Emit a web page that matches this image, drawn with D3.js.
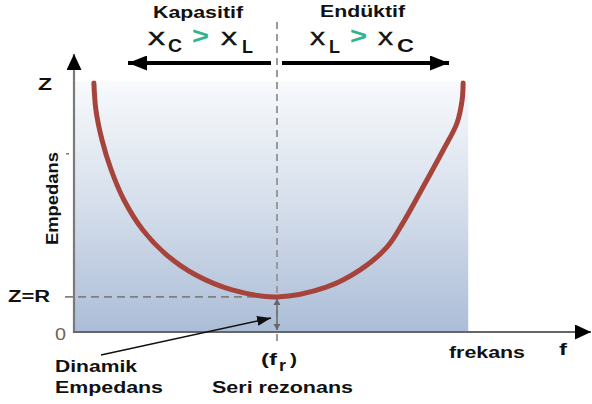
<!DOCTYPE html>
<html>
<head>
<meta charset="utf-8">
<script src="https://cdn.jsdelivr.net/npm/d3@7"></script>
<style>
  html, body { margin: 0; padding: 0; background: #fff; }
  svg { display: block; }
</style>
</head>
<body>
<div id="chart"></div>
<script>
// impedance curve (arbitrary units)
const freq      = [3.9, 4.3, 5.5, 7.3, 9.8, 13.5, 18.2, 23.9, 31.0, 39.8, 49.6, 56.1, 61.4, 64.5, 67.8, 72.4, 75.1, 76.1, 76.3];
const impedance = [92.2, 82.2, 71.1, 60.0, 48.9, 37.8, 28.5, 21.1, 15.6, 13.0, 16.7, 23.0, 31.5, 40.4, 51.5, 67.4, 77.4, 85.9, 92.2];
const resonance = 39.8;     // f_r
const zMin = 13.0;          // Z = R
const bandEnd = 77.3;       // right edge of shaded band
const bandTop = 93;
const yTickLabels = [{ v: 13.0, t: "Z=R" }, { v: 0, t: "0" }];
const yMinorTicks = [66];

const FONT = "'Liberation Sans', Arial, sans-serif";
const totalW = 592, totalH = 404;

const svg = d3.select("#chart").append("svg")
  .attr("width", totalW).attr("height", totalH);

const x = d3.scaleLinear().domain([0, 100]).range([74, 584]);
const y = d3.scaleLinear().domain([0, 100]).range([332, 62]);

const defs = svg.append("defs");
const grad = defs.append("linearGradient").attr("id", "band-grad")
  .attr("x1", 0).attr("x2", 0).attr("y1", 0).attr("y2", 1);
grad.append("stop").attr("offset", "0%").attr("stop-color", "#f8fafc");
grad.append("stop").attr("offset", "50%").attr("stop-color", "#d5deeb");
grad.append("stop").attr("offset", "100%").attr("stop-color", "#abbdd7");

function arrowMarker(id, color, w, h) {
  defs.append("marker").attr("id", id)
    .attr("viewBox", `0 0 ${w} ${h}`).attr("refX", w).attr("refY", h / 2)
    .attr("markerWidth", w).attr("markerHeight", h)
    .attr("markerUnits", "userSpaceOnUse").attr("orient", "auto")
    .append("path").attr("d", `M0,0L${w},${h / 2}L0,${h}Z`).attr("fill", color);
}
arrowMarker("ah-big", "#000", 19, 15);
arrowMarker("ah-axis", "#000", 16, 15);
arrowMarker("ah-small", "#111", 14, 10);
arrowMarker("ah-gray", "#666", 6, 7);

// shaded band
svg.append("rect")
  .attr("x", x(0)).attr("y", y(bandTop))
  .attr("width", x(bandEnd) - x(0)).attr("height", y(0) - y(bandTop))
  .attr("fill", "url(#band-grad)");

// axes
svg.append("line").attr("x1", x(0)).attr("x2", x(0)).attr("y1", y(0) + 1).attr("y2", 54)
  .attr("stroke", "#7a7a7a").attr("stroke-width", 2.2).attr("marker-end", "url(#ah-axis)");
svg.append("line").attr("x1", x(0) - 1).attr("x2", 591).attr("y1", y(0)).attr("y2", y(0))
  .attr("stroke", "#666").attr("stroke-width", 1.8).attr("marker-end", "url(#ah-axis)");

yMinorTicks.forEach(v => {
  svg.append("line").attr("x1", x(0) - 8).attr("x2", x(0) - 5).attr("y1", y(v)).attr("y2", y(v))
    .attr("stroke", "#556").attr("stroke-width", 1.2);
});

// reference dashed lines
svg.append("line").attr("x1", x(resonance)).attr("x2", x(resonance)).attr("y1", 22).attr("y2", 346)
  .attr("stroke", "#9a9a9a").attr("stroke-width", 2).attr("stroke-dasharray", "7,5");
svg.append("line").attr("x1", 65).attr("x2", x(resonance)).attr("y1", y(zMin)).attr("y2", y(zMin))
  .attr("stroke", "#808080").attr("stroke-width", 1.6).attr("stroke-dasharray", "8,5");

// double arrow between axis and Z=R
const mid = (y(zMin) + y(0)) / 2;
svg.append("line").attr("x1", x(resonance)).attr("x2", x(resonance))
  .attr("y1", mid).attr("y2", y(zMin) + 2)
  .attr("stroke", "#666").attr("stroke-width", 1.4).attr("marker-end", "url(#ah-gray)");
svg.append("line").attr("x1", x(resonance)).attr("x2", x(resonance))
  .attr("y1", mid).attr("y2", y(0) - 2)
  .attr("stroke", "#666").attr("stroke-width", 1.4).attr("marker-end", "url(#ah-gray)");

// impedance curve
const pts = freq.map((f, i) => [f, impedance[i]]);
svg.append("path").datum(pts)
  .attr("d", d3.line().x(d => x(d[0])).y(d => y(d[1])).curve(d3.curveCatmullRom.alpha(0.5)))
  .attr("fill", "none").attr("stroke", "#a6443b").attr("stroke-width", 5)
  .attr("stroke-linecap", "round");

// top arrows
svg.append("line").attr("x1", 271).attr("x2", 128).attr("y1", 63).attr("y2", 63)
  .attr("stroke", "#000").attr("stroke-width", 4).attr("marker-end", "url(#ah-big)");
svg.append("line").attr("x1", 282).attr("x2", 449).attr("y1", 63).attr("y2", 63)
  .attr("stroke", "#000").attr("stroke-width", 4).attr("marker-end", "url(#ah-big)");

// dynamic impedance pointer
svg.append("line").attr("x1", 101).attr("y1", 355).attr("x2", 271).attr("y2", 318)
  .attr("stroke", "#111").attr("stroke-width", 1.6).attr("marker-end", "url(#ah-small)");

// texts -- the source art is stretched sideways, so widths are forced
function txt(xp, yp, s, opts = {}) {
  const t = svg.append("text").attr("x", xp).attr("y", yp)
    .attr("text-anchor", opts.anchor || "start")
    .attr("fill", opts.fill || "#111")
    .style("font-family", FONT)
    .style("font-size", (opts.size || 16) + "px")
    .style("font-weight", opts.weight || "bold")
    .text(s);
  if (opts.w) t.attr("textLength", opts.w).attr("lengthAdjust", "spacingAndGlyphs");
  if (opts.thick) t.attr("stroke", opts.fill || "#111").attr("stroke-width", opts.thick);
  return t;
}

txt(153, 18, "Kapasitif", { size: 16, w: 90 });
txt(320, 17, "Endüktif", { size: 16, w: 85 });

// X_C > X_L  and  X_L > X_C
txt(148, 45, "X", { size: 18, weight: "normal", w: 17, thick: 0.6 });
txt(168, 52, "C", { size: 18, w: 14 });
txt(192, 44, ">", { size: 23, fill: "#2fb48d", w: 17 });
txt(221, 45, "X", { size: 18, weight: "normal", w: 16, thick: 0.6 });
txt(242, 53, "L", { size: 18, w: 11 });

txt(310, 45, "X", { size: 18, weight: "normal", w: 15, thick: 0.6 });
txt(329, 53, "L", { size: 18, w: 11 });
txt(350, 44, ">", { size: 23, fill: "#2fb48d", w: 17 });
txt(378, 45, "X", { size: 18, weight: "normal", w: 15, thick: 0.6 });
txt(397, 52, "C", { size: 18, w: 17 });

txt(38, 90, "Z", { size: 16, w: 14 });
svg.append("text")
  .attr("transform", "translate(58,245) rotate(-90)")
  .attr("fill", "#111")
  .attr("textLength", 93).attr("lengthAdjust", "spacingAndGlyphs")
  .style("font-family", FONT).style("font-size", "16px").style("font-weight", "bold")
  .text("Empedans");

txt(8, y(yTickLabels[0].v) + 5, yTickLabels[0].t, { size: 16, w: 42 });
txt(55, y(yTickLabels[1].v) + 8, yTickLabels[1].t, { size: 16, weight: "normal", fill: "#6b6255", w: 11 });

txt(55, 372, "Dinamik", { size: 16, w: 82 });
txt(55, 393, "Empedans", { size: 16, w: 108 });

txt(261, 365, "(f", { size: 16, w: 16 });
txt(279, 371, "r", { size: 16, w: 7 });
txt(290, 365, ")", { size: 16, w: 7 });
txt(212, 393, "Seri rezonans", { size: 16, w: 141 });

txt(449, 358, "frekans", { size: 16, w: 76 });
txt(559, 355, "f", { size: 17, w: 8 });
</script>
</body>
</html>
